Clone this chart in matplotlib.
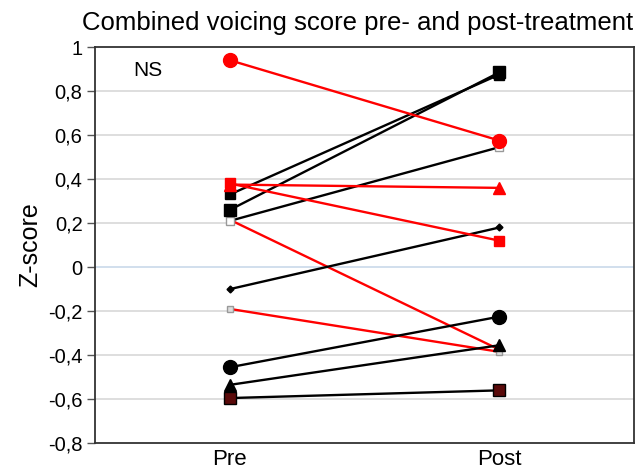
import matplotlib
matplotlib.use("Agg")
import matplotlib.pyplot as plt

plt.rcParams['font.family'] = ['Liberation Sans', 'DejaVu Sans']

categories = ["Pre", "Post"]
yticks = [1, 0.8, 0.6, 0.4, 0.2, 0, -0.2, -0.4, -0.6, -0.8]
ytick_labels = ["1", "0,8", "0,6", "0,4", "0,2", "0", "-0,2", "-0,4", "-0,6", "-0,8"]

# each subject: (pre, post)
s_red_circle = [0.94, 0.575]
s_black_square = [0.26, 0.885]
s_black_cross = [0.33, 0.875]
s_open_square = [0.21, 0.545]
s_red_triangle = [0.375, 0.36]
s_red_square = [0.38, 0.12]
s_black_diamond = [-0.10, 0.18]
s_red_grey_sq = [-0.19, -0.385]
s_red_line = [0.215, -0.375]
s_black_circle = [-0.455, -0.225]
s_black_triangle = [-0.535, -0.355]
s_dark_square = [-0.595, -0.56]

fig = plt.figure(figsize=(6.38, 4.75), dpi=100)
ax = fig.add_axes([0.149, 0.067, 0.845, 0.834])
x = [0, 1]

ax.set_xlim(-0.5, 1.5)
ax.set_ylim(-0.8, 1.0)
for t in yticks:
    if t == 0:
        ax.axhline(t, color="#c9d9ea", lw=1.2, zorder=0)
    elif t not in (1, -0.8):
        ax.axhline(t, color="#d8d8d8", lw=1.2, zorder=0)

lw = 1.7
def draw(vals, color, marker, ms, mfc, mec):
    ax.plot(x, vals, color=color, lw=lw, marker=marker, ms=ms,
            mfc=mfc, mec=mec, zorder=3)

draw(s_red_line, "red", "None", 0, "red", "red")
draw(s_red_grey_sq, "red", "s", 4, "#dddddd", "#999999")
draw(s_black_diamond, "black", "D", 3.5, "black", "black")
draw(s_open_square, "black", "s", 5.5, "white", "#999999")
draw(s_black_cross, "black", "s", 7, "black", "black")
draw(s_black_square, "black", "s", 9, "black", "black")
draw(s_red_square, "red", "s", 7, "red", "red")
draw(s_red_triangle, "red", "^", 9, "red", "red")
draw(s_red_circle, "red", "o", 10, "red", "red")
draw(s_black_circle, "black", "o", 10, "black", "black")
draw(s_black_triangle, "black", "^", 8, "black", "black")
draw(s_dark_square, "black", "s", 9, "#5a0a0a", "black")

ax.set_yticks(yticks)
ax.set_yticklabels(ytick_labels, fontsize=14.5)
ax.set_xticks(x)
ax.set_xticklabels(categories, fontsize=16)
ax.tick_params(axis='x', length=0, pad=4)
ax.tick_params(axis='y', length=6, width=1, color="#555555", pad=3)
for sp in ax.spines.values():
    sp.set_color("#333333")
    sp.set_linewidth(1.3)

ax.set_ylabel("Z-score", fontsize=18, labelpad=4)
ax.text(0.07, 0.965, "NS", transform=ax.transAxes, fontsize=15, va="top", ha="left")
fig.text(0.56, 0.952, "Combined voicing score pre- and post-treatment",
         fontsize=18.5, ha="center", va="center")

fig.savefig("out.png", dpi=100)
